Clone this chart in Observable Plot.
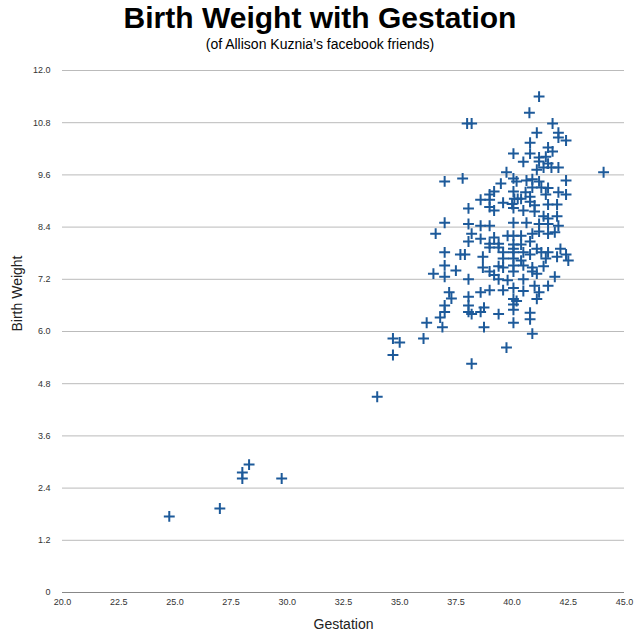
<!DOCTYPE html>
<html><head><meta charset="utf-8">
<script src="https://cdn.jsdelivr.net/npm/d3@7"></script>
<script src="https://cdn.jsdelivr.net/npm/@observablehq/plot@0.6"></script>
<style>
body{margin:0;background:#fff;font-family:"Liberation Sans",Arial,sans-serif;}
#t{text-align:center;font-weight:bold;font-size:30px;line-height:30px;padding-top:3px;height:34px;}
#s{text-align:center;font-size:14px;line-height:14px;height:23px;}
</style></head><body>
<div id="t">Birth Weight with Gestation</div>
<div id="s">(of Allison Kuznia’s facebook friends)</div>
<div id="c"></div>
<script>
const gestation = [41.2,40.77,38.0,38.2,41.8,41.1,42.06,42.06,42.4,40.8,41.6,41.8,40.06,40.8,41.2,41.5,40.5,41.2,41.6,41.4,41.75,42.06,41.1,39.75,44.07,37.0,37.8,40.06,40.2,40.64,40.9,41.2,42.4,39.5,40.9,41.3,41.6,42.06,39.2,39.0,40.06,40.6,40.8,41.5,42.4,38.6,39.0,39.6,40.1,40.25,40.4,40.8,41.0,40.0,41.6,42.0,38.06,39.0,39.2,40.06,40.5,41.0,41.4,41.6,42.0,37.0,38.06,38.6,39.0,40.06,40.64,41.2,41.6,42.06,
36.6,38.2,38.6,39.2,39.8,40.06,40.4,40.9,41.2,41.6,41.9,38.06,39.0,39.4,40.06,40.4,40.8,39.0,39.4,40.06,42.15,37.0,37.7,37.9,38.7,39.6,40.06,40.5,40.8,41.1,41.3,41.6,42.0,42.4,42.5,40.06,40.4,39.6,41.5,37.0,37.5,38.7,39.4,39.6,40.06,40.5,40.9,41.4,36.5,37.0,39.0,39.2,40.06,40.9,41.1,38.06,39.4,39.8,40.5,41.9,41.0,41.6,37.2,37.3,38.06,38.6,39.0,39.6,40.06,40.5,41.2,41.1,40.06,40.2,37.0,37.0,38.06,38.06,38.2,38.6,38.75,39.4,40.06,40.06,40.8,40.8,36.8,36.9,36.2,40.06,38.75,40.9,34.7,35.0,36.06,34.7,39.75,38.2,
34.0,29.75,28.3,28.0,28.0,27.0,24.75];
const weight = [11.4,11.03,10.78,10.78,10.78,10.57,10.57,10.46,10.39,10.34,10.23,10.14,10.09,10.09,10.0,10.02,9.9,9.91,9.86,9.77,9.77,9.77,9.72,9.66,9.66,9.45,9.52,9.52,9.45,9.47,9.5,9.45,9.47,9.4,9.31,9.31,9.3,9.2,9.22,9.15,9.22,9.2,9.1,9.15,9.15,9.03,9.03,8.96,9.05,9.05,9.05,8.98,8.9,8.93,8.92,8.92,8.83,8.86,8.78,8.84,8.78,8.76,8.65,8.6,8.65,8.5,8.47,8.43,8.43,8.5,8.5,8.47,8.47,8.43,
8.25,8.25,8.13,8.16,8.2,8.2,8.2,8.25,8.3,8.25,8.28,8.07,8.02,8.02,8.0,8.0,8.07,7.93,7.93,7.9,7.9,7.82,7.77,7.77,7.72,7.82,7.82,7.82,7.77,7.9,7.82,7.82,7.72,7.77,7.63,7.68,7.63,7.68,7.68,7.52,7.4,7.47,7.5,7.47,7.52,7.52,7.47,7.5,7.33,7.26,7.38,7.3,7.38,7.38,7.33,7.2,7.2,7.18,7.2,7.26,7.05,7.05,6.9,6.76,6.8,6.9,6.95,6.95,7.0,6.93,6.9,6.75,6.75,6.7,6.6,6.45,6.6,6.45,6.4,6.45,6.55,6.4,6.5,6.62,6.43,6.28,6.32,6.1,6.2,6.2,6.1,5.95,5.84,5.75,5.84,5.46,5.63,5.26,
4.5,2.62,2.94,2.76,2.62,1.93,1.75];
const xTicks = [20,22.5,25,27.5,30,32.5,35,37.5,40,42.5,45];
const yTicks = [0,1.2,2.4,3.6,4.8,6.0,7.2,8.4,9.6,10.8,12.0];
const data = gestation.map((g,i)=>({g, w: weight[i]}));
const chart = Plot.plot({
  width:640, height:575, marginTop:10, marginBottom:43, marginLeft:62, marginRight:16,
  style:{fontFamily:"Liberation Sans, Arial, sans-serif", fontSize:"9px", color:"#333"},
  x:{domain:[20,45], ticks:xTicks, tickFormat:d=>d.toFixed(1), tickSize:0, tickPadding:6, label:null},
  y:{domain:[0,12], ticks:yTicks, tickFormat:d=>d===0?"0":d.toFixed(1), tickSize:0, tickPadding:12, label:null},
  marks:[
    Plot.gridY(yTicks,{stroke:"#bbb", strokeOpacity:1}),
    Plot.ruleY([0],{stroke:"#888"}),
    Plot.dot(data,{x:"g", y:"w", symbol:"plus", r:3.6, stroke:"#1d5a9a", strokeWidth:2}),
    Plot.text(["Gestation"],{frameAnchor:"bottom", dy:36, fontSize:14, fill:"#222"}),
    Plot.text(["Birth Weight"],{frameAnchor:"left", dx:-45, rotate:-90, fontSize:14, fill:"#222"})
  ]
});
document.getElementById("c").append(chart);
</script>
</body></html>
